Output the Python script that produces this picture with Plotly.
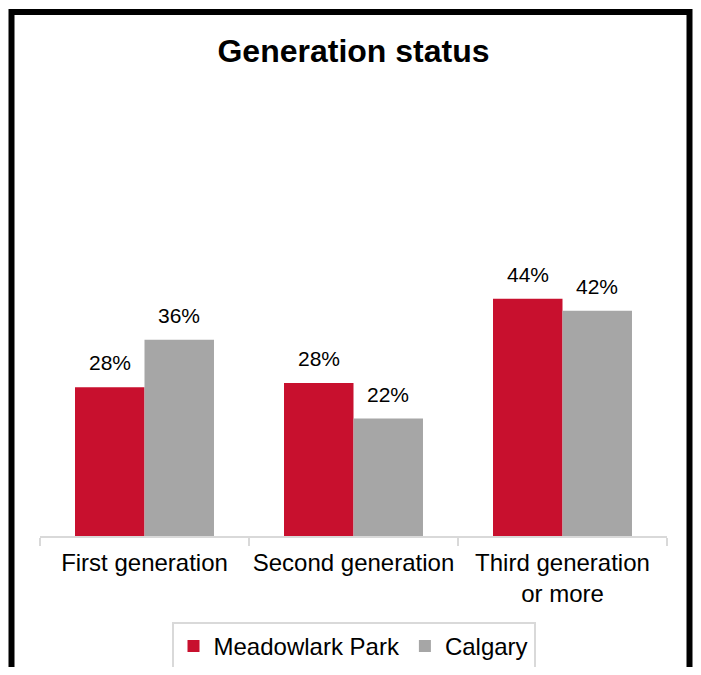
import plotly.graph_objects as go

categories = ["First generation", "Second generation", "Third generation<br>or more"]
meadowlark = [27.6, 28.4, 44.0]
calgary = [36.4, 21.8, 41.8]
series_names = ["Meadowlark Park", "Calgary"]
colors = ["#C8102E", "#A6A6A6"]

FONT = "Arial, Liberation Sans, sans-serif"
# page body has an 8px margin, so the figure is sized/offset to compensate
OFF = 8
W, H = 701 - OFF, 675 - 2 * OFF
ML, MR, MT = 40 - OFF, 34, 100 - OFF
MB = H - (536 - OFF)
BARGAP = 0.335

fig = go.Figure()
for name, vals, col in zip(series_names, [meadowlark, calgary], colors):
    fig.add_trace(go.Bar(
        x=categories, y=vals, name=name,
        marker=dict(color=col, line=dict(width=0)),
        hoverinfo="skip",
    ))

# value labels above bars
w = (1 - BARGAP) / 2
annotations = []
for k, vals in enumerate([meadowlark, calgary]):
    off = -w / 2 if k == 0 else w / 2
    for i, v in enumerate(vals):
        annotations.append(dict(
            x=i + off, y=v, xref="x", yref="y",
            text=f"{v:.0f}%", showarrow=False,
            yanchor="bottom", xanchor="center", yshift=11,
            font=dict(family=FONT, size=21, color="#000000"),
        ))

# outer black frame (figure decoration)
pw = W - ML - MR
ph = H - MT - MB
def px2paper_x(px):
    return (px - OFF - ML) / pw
def px2paper_y(py):
    return (H - MB - (py - OFF)) / ph

fig.update_layout(
    width=W, height=H,
    margin=dict(l=ML, r=MR, t=MT, b=MB, autoexpand=False),
    paper_bgcolor="white", plot_bgcolor="white",
    barmode="group", bargap=BARGAP, bargroupgap=0,
    title=dict(text="<b>Generation status</b>", x=0.5, xref="paper", xanchor="center",
               y=1 - 32 / H, yref="container", yanchor="top",
               font=dict(family=FONT, size=32, color="#000000")),
    xaxis=dict(showline=True, linecolor="#D9D9D9", linewidth=1.5,
               ticks="outside", tickson="boundaries", ticklen=8, tickcolor="#D9D9D9",
               tickwidth=1.5, showgrid=False, tickangle=0, automargin=False,
               ticklabelstandoff=4,
               tickfont=dict(family=FONT, size=24, color="#000000")),
    yaxis=dict(visible=False, range=[0, (H - MT - MB) / 5.39], showgrid=False,
               automargin=False),
    legend=dict(orientation="h", x=0.5, xanchor="center", xref="paper",
                y=1 - (622 - OFF) / H, yref="container", yanchor="top",
                bordercolor="#D9D9D9", borderwidth=2, bgcolor="white",
                font=dict(family=FONT, size=24, color="#000000"),
                itemwidth=30, traceorder="normal"),
    annotations=annotations,
    shapes=[dict(type="rect", xref="paper", yref="paper",
                 x0=px2paper_x(11.5), x1=px2paper_x(689.5),
                 y0=px2paper_y(700), y1=px2paper_y(12),
                 line=dict(color="#000000", width=6), fillcolor="rgba(0,0,0,0)",
                 layer="above")],
)

fig.write_html("out.html")
